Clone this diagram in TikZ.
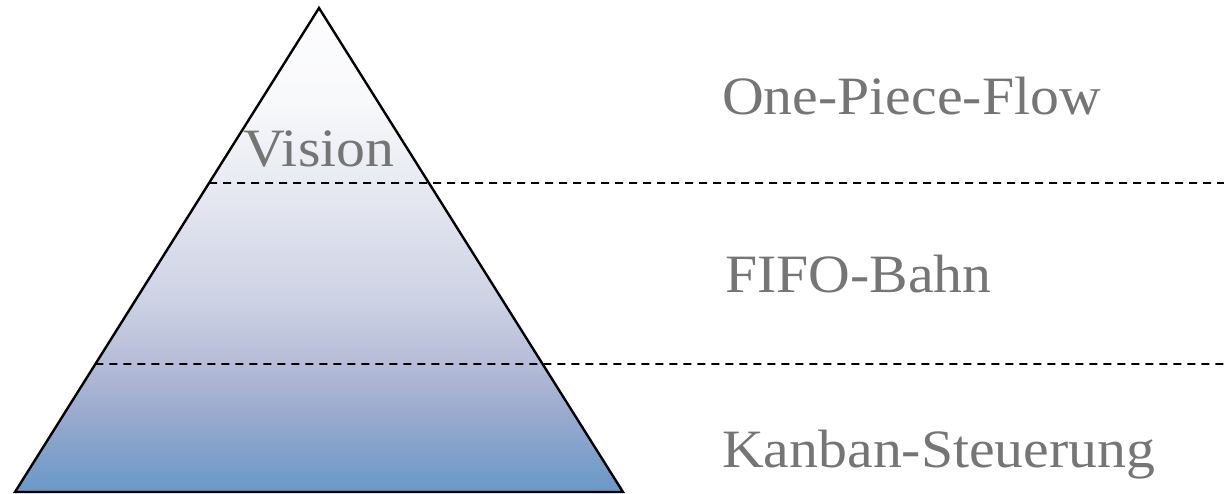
\documentclass[tikz,border=0pt]{standalone}
\usepackage{fontspec}
\setmainfont[FakeStretch=1.07]{Liberation Serif}
\usetikzlibrary{calc}
% vertical fill of the pyramid: blue at the base, fading to white at the tip
\pgfdeclareverticalshading{pyramidfill}{100bp}{%
  rgb(0bp)=(0.408,0.596,0.784);
  rgb(25bp)=(0.408,0.596,0.784);
  rgb(32.4bp)=(0.588,0.659,0.804);
  rgb(38.2bp)=(0.706,0.737,0.843);
  rgb(44.8bp)=(0.804,0.824,0.894);
  rgb(56.9bp)=(0.910,0.918,0.949);
  rgb(65.5bp)=(0.973,0.976,0.984);
  rgb(75bp)=(0.992,0.992,0.996);
  rgb(100bp)=(0.992,0.992,0.996)}
\begin{document}
\begin{tikzpicture}[x=1pt,y=-1pt,
  edge/.style={draw=black,line width=2.4pt,line join=miter},
  level/.style={draw=black,line width=1.9pt,dash pattern=on 8pt off 6pt},
  label/.style={text=black!54,font=\fontsize{54}{60}\selectfont,inner sep=0pt,anchor=base west}]
  \useasboundingbox (0,0) rectangle (1224,494);
  % pyramid corners
  \coordinate (apex) at (319,8);
  \coordinate (bl) at (15,492);
  \coordinate (br) at (623,492);
  % gradient fill of the pyramid
  \shade[shading=pyramidfill] (apex) -- (bl) -- (br) -- cycle;
  \draw[edge] (apex) -- (bl) -- (br) -- cycle;
  % level separators
  \coordinate (l1) at ($(apex)!0.3616!(bl)$);
  \coordinate (r1) at (1224,183);
  \coordinate (l2) at ($(apex)!0.7355!(bl)$);
  \coordinate (r2) at (1224,364);
  \draw[level] (l1) -- (r1);
  \draw[level] (l2) -- (r2);
  % labels
  \node[label,anchor=base] (vis) at (319,167) {Vision};
  \node[label] (opf) at (722,115) {One-Piece-Flow};
  \node[label] (fifo) at (725,293) {FIFO-Bahn};
  \node[label] (kan) at (722,467) {Kanban-Steuerung};
\end{tikzpicture}
\end{document}
